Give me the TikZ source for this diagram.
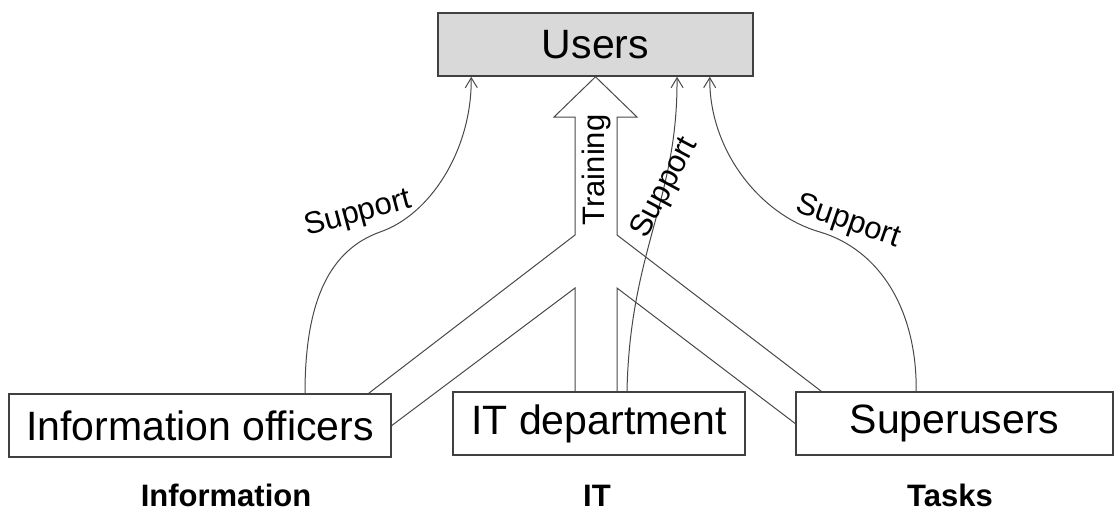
\documentclass[tikz,border=0pt]{standalone}
\usepackage{fontspec}
\setmainfont{Liberation Sans}
\usetikzlibrary{arrows.meta,calc}
\definecolor{rim}{RGB}{64,64,64}
\definecolor{wire}{RGB}{72,72,72}
\definecolor{shade}{RGB}{217,217,217}
\tikzset{
  unit/.style={draw=rim, line width=0.8pt, fill=white, inner sep=0pt,
              minimum height=31.5pt, font=\fontsize{20.5}{24}\selectfont},
  help/.style={-{Straight Barb[length=5pt,width=6pt]}, wire, line width=0.5pt},
  fat/.style={wire, line width=0.5pt, line join=miter},
  tag/.style={font=\fontsize{15.5}{18}\selectfont, inner sep=0pt},
  area/.style={font=\fontsize{15.5}{18}\selectfont\bfseries, inner sep=0pt, anchor=base},
}
\begin{document}
\begin{tikzpicture}[x=0.5pt,y=-0.5pt]
        \useasboundingbox (0,0) rectangle (1115,510);
        \node[unit,fill=shade,minimum width=157.5pt] (users) at (595.5,44.5) {Users};
        \node[unit,minimum width=191pt] (info) at (200,425.5) {Information officers};
        \node[unit,minimum width=146pt] (itdep) at (599,423.5) {IT department};
        \node[unit,minimum width=158.5pt] (super) at (954.5,423.5) {Superusers};
        % training arrow
        \draw[fat] ($(info.north east)+(-23,0)$) -- (575,235) -- (575,117) -- (554,117) -- (users.south)
          -- (637,117) -- (617,117) -- (617,235) -- ($(super.north west)+(26,0)$);
        \draw[fat] (info.east) -- (575,288) -- (575,0 |- itdep.north);
        \draw[fat] (617,0 |- itdep.north) -- (617,288) -- (super.west);
        \node[tag,rotate=90] (train) at (596,170) {Training};
        % support
        \draw[help] ($(info.north)+(105,0)$) .. controls (305,300) and (330,250) .. (380,232)
          .. controls (430,215) and (472,150) .. ($(users.south west)+(34,0)$);
        \node[tag,rotate=15] (sup1) at (358,214) {Support};
        \draw[help] ($(itdep.north)+(28,0)$) .. controls (630,250) and (678,200) .. ($(users.south)+(81.5,0)$);
        \node[tag,rotate=62] (sup2) at (665,188) {Support};
        \draw[help] ($(super.north west)+(121,0)$) .. controls (917,310) and (880,250) .. (820,232)
          .. controls (760,215) and (709,150) .. ($(users.south east)+(-44,0)$);
        \node[tag,rotate=-19] (sup3) at (848,222) {Support};
        % areas
        \node[area] (arinfo) at (226,506) {Information};
        \node[area] (arit) at (597,506) {IT};
        \node[area] (artask) at (950,506) {Tasks};
\end{tikzpicture}
\end{document}
